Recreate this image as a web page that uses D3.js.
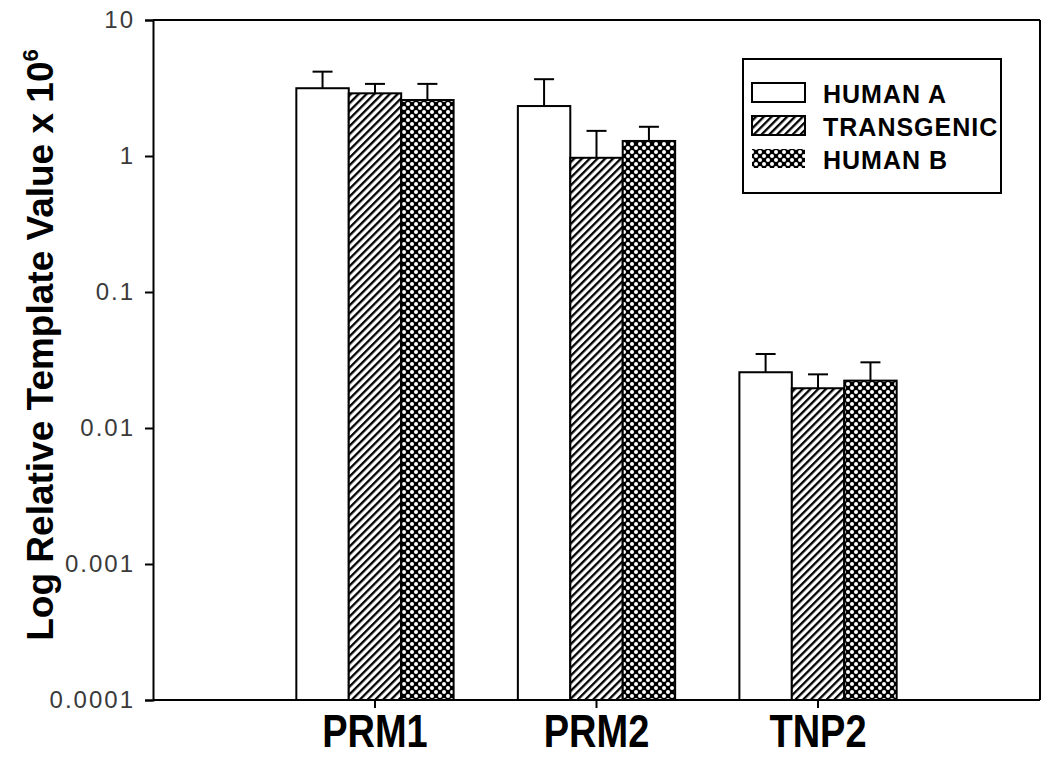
<!DOCTYPE html>
<html><head><meta charset="utf-8">
<script src="https://cdn.jsdelivr.net/npm/d3@7"></script>
<style>body{margin:0;background:#fff}</style>
</head><body>
<svg id="c" width="1050" height="765"></svg>
<script>
const categories = ["PRM1", "PRM2", "TNP2"];
const seriesNames = ["HUMAN A", "TRANSGENIC", "HUMAN B"];
const humanA = [3.15, 2.33, 0.0257];
const transgenic = [2.89, 0.97, 0.0196];
const humanB = [2.58, 1.29, 0.0223];
const humanAErr = [4.17, 3.67, 0.035];
const transgenicErr = [3.39, 1.53, 0.0248];
const humanBErr = [3.39, 1.64, 0.0304];
const yTicks = [10, 1, 0.1, 0.01, 0.001, 0.0001];
const yTickLabels = ["10", "1", "0.1", "0.01", "0.001", "0.0001"];

const values = [humanA, transgenic, humanB];
const errs = [humanAErr, transgenicErr, humanBErr];

const svg = d3.select("#c");
const L = 153, R = 1040, T = 20, B = 700;

const defs = svg.append("defs");
const hatch = defs.append("pattern").attr("id","hatch").attr("patternUnits","userSpaceOnUse")
  .attr("width",5.5).attr("height",5.5).attr("patternTransform","rotate(45)");
hatch.append("rect").attr("width",5.5).attr("height",5.5).attr("fill","#fff");
hatch.append("rect").attr("x",0).attr("width",2.3).attr("height",5.5).attr("fill","#000");
const xh = defs.append("pattern").attr("id","xhatch").attr("patternUnits","userSpaceOnUse")
  .attr("width",8).attr("height",8);
xh.append("rect").attr("width",8).attr("height",8).attr("fill","#000");
[[0,0],[8,0],[0,8],[8,8],[4,4]].forEach(p=>xh.append("circle").attr("cx",p[0]).attr("cy",p[1]).attr("r",2).attr("fill","#fff"));
const fills = ["#fff","url(#hatch)","url(#xhatch)"];

const y = d3.scaleLog().domain([0.0001, 10]).range([B, T]);
const x0 = d3.scaleBand().domain(categories).range([L, R]).paddingInner(0.29).paddingOuter(0.647);
const x1 = d3.scaleBand().domain(seriesNames).range([0, x0.bandwidth()]);

// frame
svg.append("line").attr("x1",L).attr("x2",R).attr("y1",T).attr("y2",T).attr("stroke","#000").attr("stroke-width",2);
svg.append("line").attr("x1",R).attr("x2",R).attr("y1",T).attr("y2",B).attr("stroke","#000").attr("stroke-width",2);

// bars
const g = svg.append("g");
seriesNames.forEach((s, si) => {
  categories.forEach((c, ci) => {
    const v = values[si][ci], e = errs[si][ci];
    const bx = x0(c) + x1(s), bw = x1.bandwidth();
    const cx = bx + bw/2;
    g.append("line").attr("x1",cx).attr("x2",cx).attr("y1",y(v)).attr("y2",y(e)).attr("stroke","#000").attr("stroke-width",2);
    g.append("line").attr("x1",cx-10).attr("x2",cx+10).attr("y1",y(e)).attr("y2",y(e)).attr("stroke","#000").attr("stroke-width",2);
    g.append("rect").attr("x",bx).attr("y",y(v)).attr("width",bw).attr("height",B-y(v))
      .attr("fill",fills[si]).attr("stroke","#000").attr("stroke-width",2);
  });
});

// y axis
const ya = svg.append("g").attr("transform",`translate(${L},0)`)
  .call(d3.axisLeft(y).tickValues(yTicks).tickFormat((d,i)=>yTickLabels[i]).tickSize(8).tickPadding(10));
ya.select(".domain").attr("stroke","#000").attr("stroke-width",2);
ya.selectAll(".tick line").attr("stroke","#000").attr("stroke-width",2);
ya.selectAll(".tick text").attr("font-family","Liberation Sans, Arial, sans-serif").attr("font-size",24)
  .attr("letter-spacing",2).attr("fill","#3a3a3a");

// x axis
const xa = svg.append("g").attr("transform",`translate(0,${B})`)
  .call(d3.axisBottom(x0).tickSize(8).tickSizeOuter(0).tickFormat(""));
xa.select(".domain").attr("stroke","#000").attr("stroke-width",2).attr("d",`M${L},0H${R}`);
xa.selectAll(".tick line").attr("stroke","#000").attr("stroke-width",2);
categories.forEach(c => {
  svg.append("text").attr("transform",`translate(${x0(c)+x0.bandwidth()/2},747) scale(1,1.22)`)
    .attr("text-anchor","middle").attr("font-family","Liberation Sans, Arial, sans-serif")
    .attr("font-weight","bold").attr("font-size",38).text(c);
});

// y title
const yt = svg.append("text").attr("transform","translate(53,345) rotate(-90)")
  .attr("text-anchor","middle").attr("font-family","Liberation Sans, Arial, sans-serif")
  .attr("font-weight","bold").attr("font-size",37);
yt.append("tspan").text("Log Relative Template Value x 10");
yt.append("tspan").attr("dy",-15).attr("font-size",22).text("6");

// legend
const lg = svg.append("g");
lg.append("rect").attr("x",743).attr("y",59).attr("width",258).attr("height",134).attr("fill","#fff").attr("stroke","#000").attr("stroke-width",2);
seriesNames.forEach((s, i) => {
  const ly = 93 + i*33;
  lg.append("rect").attr("x",752).attr("y",ly-10).attr("width",53).attr("height",19)
    .attr("fill",fills[i]).attr("stroke", i===2 ? "none" : "#000").attr("stroke-width",2);
  lg.append("text").attr("x",823).attr("y",ly+10).attr("font-family","Liberation Sans, Arial, sans-serif")
    .attr("font-weight","bold").attr("font-size",25).attr("letter-spacing",1).text(s);
});
</script>
</body></html>
